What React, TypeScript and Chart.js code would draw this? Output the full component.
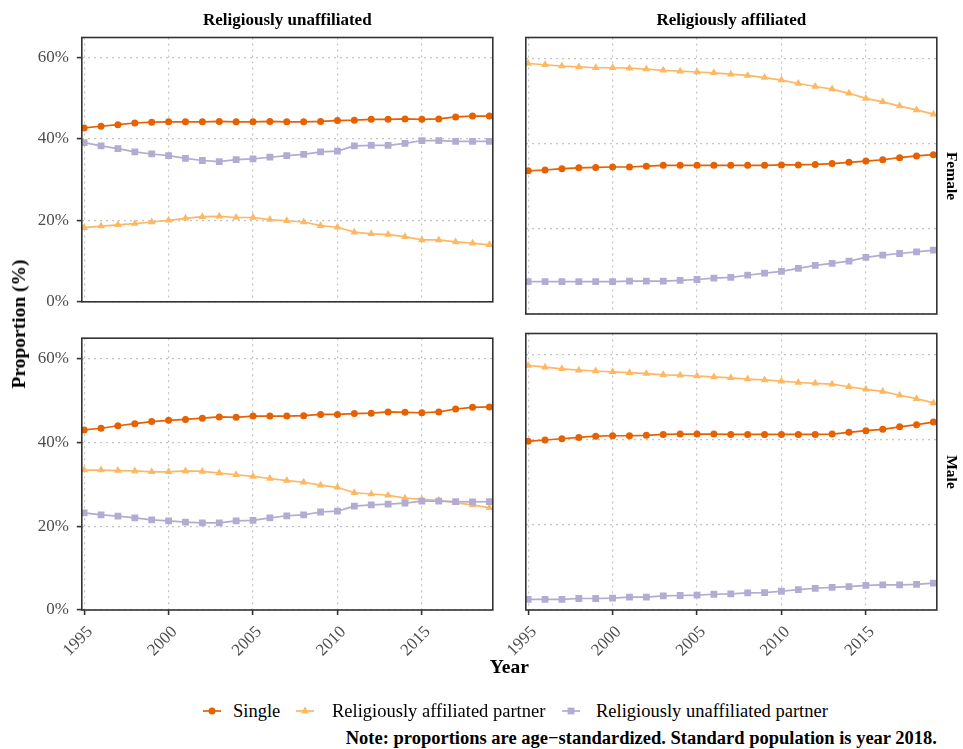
import React, { useEffect, useRef } from 'react';
import { Chart, registerables } from 'chart.js';

Chart.register(...registerables);

// ---------- data ----------
const years = [1995, 1996, 1997, 1998, 1999, 2000, 2001, 2002, 2003, 2004, 2005, 2006, 2007, 2008, 2009, 2010, 2011, 2012, 2013, 2014, 2015, 2016, 2017, 2018, 2019];
const xTickValues = [1995, 2000, 2005, 2010, 2015];
const yTickValues = [0, 20, 40, 60];

const seriesNames = ['Single', 'Religiously affiliated partner', 'Religiously unaffiliated partner'];
const seriesColors = ['#e66101', '#fdb863', '#b2abd2'];
const seriesShapes = ['circle', 'triangle', 'rect'];

const columnLabels = ['Religiously unaffiliated', 'Religiously affiliated'];
const rowLabels = ['Female', 'Male'];

// Female, religiously unaffiliated
const femUnaffSingle = [42.7, 43.1, 43.5, 43.9, 44.1, 44.2, 44.2, 44.2, 44.3, 44.2, 44.2, 44.3, 44.2, 44.2, 44.3, 44.5, 44.6, 44.8, 44.8, 44.9, 44.8, 44.9, 45.4, 45.6, 45.6];
const femUnaffAffPartner = [18.2, 18.6, 18.9, 19.2, 19.6, 20.0, 20.5, 20.9, 21.0, 20.7, 20.7, 20.2, 19.9, 19.6, 18.7, 18.3, 17.1, 16.7, 16.5, 16.0, 15.2, 15.2, 14.7, 14.4, 14.0];
const femUnaffUnaffPartner = [39.1, 38.3, 37.6, 36.8, 36.3, 35.9, 35.2, 34.7, 34.4, 34.9, 35.1, 35.5, 35.9, 36.2, 36.8, 37.0, 38.3, 38.4, 38.4, 38.9, 39.6, 39.6, 39.4, 39.4, 39.4];

// Female, religiously affiliated
const femAffSingle = [33.6, 33.8, 34.1, 34.3, 34.4, 34.5, 34.5, 34.7, 34.9, 34.9, 34.9, 34.9, 34.9, 34.9, 34.9, 35.0, 35.0, 35.1, 35.3, 35.6, 35.9, 36.2, 36.7, 37.1, 37.4];
const femAffAffPartner = [58.8, 58.5, 58.2, 58.0, 57.8, 57.8, 57.7, 57.5, 57.2, 57.0, 56.8, 56.6, 56.3, 56.0, 55.5, 54.9, 54.1, 53.4, 52.8, 51.8, 50.6, 49.8, 48.8, 47.9, 46.9];
const femAffUnaffPartner = [7.6, 7.6, 7.6, 7.6, 7.6, 7.6, 7.7, 7.7, 7.7, 7.9, 8.1, 8.4, 8.6, 9.1, 9.6, 10.0, 10.7, 11.4, 11.9, 12.4, 13.3, 13.8, 14.2, 14.6, 15.0];

// Male, religiously unaffiliated
const maleUnaffSingle = [43.0, 43.4, 44.0, 44.5, 45.0, 45.3, 45.5, 45.8, 46.1, 46.0, 46.3, 46.3, 46.3, 46.4, 46.7, 46.7, 46.9, 47.0, 47.3, 47.2, 47.1, 47.3, 48.0, 48.4, 48.5];
const maleUnaffAffPartner = [33.4, 33.4, 33.3, 33.2, 33.0, 33.0, 33.2, 33.1, 32.7, 32.3, 31.9, 31.4, 30.9, 30.5, 29.8, 29.3, 28.0, 27.7, 27.4, 26.7, 26.4, 26.2, 25.6, 25.1, 24.4];
const maleUnaffUnaffPartner = [23.2, 22.7, 22.4, 22.0, 21.5, 21.3, 21.0, 20.8, 20.8, 21.3, 21.4, 22.0, 22.5, 22.7, 23.4, 23.6, 24.8, 25.1, 25.3, 25.5, 26.0, 26.0, 25.9, 25.8, 25.9];

// Male, religiously affiliated
const maleAffSingle = [39.6, 39.9, 40.2, 40.5, 40.8, 40.9, 40.9, 41.0, 41.2, 41.3, 41.3, 41.3, 41.2, 41.2, 41.2, 41.2, 41.2, 41.2, 41.3, 41.7, 42.1, 42.4, 43.0, 43.5, 44.1];
const maleAffAffPartner = [57.4, 57.0, 56.6, 56.3, 56.1, 55.9, 55.7, 55.5, 55.2, 55.1, 54.9, 54.7, 54.5, 54.2, 54.0, 53.7, 53.4, 53.2, 53.0, 52.4, 51.8, 51.3, 50.4, 49.6, 48.6];
const maleAffUnaffPartner = [2.5, 2.5, 2.5, 2.7, 2.7, 2.8, 3.0, 3.0, 3.3, 3.4, 3.5, 3.7, 3.8, 4.0, 4.1, 4.4, 4.8, 5.1, 5.3, 5.5, 5.8, 5.9, 5.9, 6.0, 6.3];

// ---------- styling ----------
const FONT = '"Liberation Serif", "Times New Roman", serif';
const X_MIN = 1994.86;
const X_MAX = 2019.2;
const Y_MIN = 0;
const Y_MAX = 64.9;
const pointRadii = [3.5, 4.5, 4.8];

const framePlugin = {
  id: 'panelFrame',
  afterDraw(chart: any) {
    const { ctx, chartArea: a } = chart;
    ctx.save();
    ctx.strokeStyle = '#333333';
    ctx.lineWidth = 1.6;
    ctx.strokeRect(a.left, a.top, a.right - a.left, a.bottom - a.top);
    ctx.restore();
  },
};

type PanelProps = {
  series: number[][];
  showX: boolean;
  showY: boolean;
  left: number;
  top: number;
  width: number;
  height: number;
  padding: { left: number; right: number; top: number; bottom: number };
  axisW: number;
  axisH: number;
};

function Panel(p: PanelProps) {
  const ref = useRef<HTMLCanvasElement | null>(null);
  useEffect(() => {
    if (!ref.current) return;
    const chart = new Chart(ref.current, {
      type: 'line',
      data: {
        datasets: p.series.map((vals, i) => ({
          label: seriesNames[i],
          data: years.map((yr, j) => ({ x: yr, y: vals[j] })),
          borderColor: seriesColors[i],
          backgroundColor: seriesColors[i],
          pointBackgroundColor: seriesColors[i],
          pointBorderColor: seriesColors[i],
          pointBorderWidth: 0,
          pointStyle: seriesShapes[i] as any,
          pointRadius: pointRadii[i],
          borderWidth: 1.7,
          tension: 0,
          order: 2 - i,
        })),
      },
      options: {
        animation: false,
        responsive: false,
        maintainAspectRatio: false,
        events: [],
        layout: { padding: p.padding },
        plugins: { legend: { display: false }, tooltip: { enabled: false } },
        scales: {
          x: {
            type: 'linear',
            min: X_MIN,
            max: X_MAX,
            afterBuildTicks: (s: any) => {
              s.ticks = xTickValues.map((v) => ({ value: v }));
            },
            afterFit: (s: any) => {
              s.height = p.axisH;
            },
            ticks: {
              display: p.showX,
              autoSkip: false,
              minRotation: 45,
              maxRotation: 45,
              padding: 7,
              labelOffset: 6,
              color: '#4d4d4d',
              font: { family: FONT, size: 17 },
              callback: (v: any) => String(v),
            },
            grid: {
              color: '#c4c4c4',
              lineWidth: 1.2,
              drawTicks: p.showX,
              tickLength: 5,
              tickColor: '#333333',
              tickWidth: 1.6,
              tickBorderDash: [],
            },
            border: { display: false, dash: [2, 4] },
          },
          y: {
            type: 'linear',
            min: Y_MIN,
            max: Y_MAX,
            afterBuildTicks: (s: any) => {
              s.ticks = yTickValues.map((v) => ({ value: v }));
            },
            afterFit: (s: any) => {
              s.width = p.axisW;
            },
            ticks: {
              display: p.showY,
              padding: 8,
              color: '#4d4d4d',
              font: { family: FONT, size: 17 },
              callback: (v: any) => v + '%',
            },
            grid: {
              color: '#c4c4c4',
              lineWidth: 1.2,
              drawTicks: p.showY,
              tickLength: 5,
              tickColor: '#333333',
              tickWidth: 1.6,
              tickBorderDash: [],
            },
            border: { display: false, dash: [2, 4] },
          },
        },
      } as any,
      plugins: [framePlugin],
    });
    return () => chart.destroy();
  }, []);
  return (
    <canvas
      ref={ref}
      width={p.width}
      height={p.height}
      style={{ position: 'absolute', left: p.left, top: p.top, width: p.width, height: p.height }}
    />
  );
}

function LegendKey({ color, shape }: { color: string; shape: string }) {
  return (
    <svg width={20} height={14} style={{ display: 'block' }}>
      <line x1={1} y1={7} x2={19} y2={7} stroke={color} strokeWidth={1.7} />
      {shape === 'circle' && <circle cx={10} cy={7} r={3.5} fill={color} />}
      {shape === 'triangle' && <polygon points="10,2.5 13.9,9.25 6.1,9.25" fill={color} />}
      {shape === 'rect' && <rect x={6.6} y={3.6} width={6.8} height={6.8} fill={color} />}
    </svg>
  );
}

const legendKeyCenters = [212, 305, 571];
const legendTextLefts = [233, 332, 596];

export default function App() {
  const textBase: React.CSSProperties = { position: 'absolute', fontFamily: FONT, color: '#000', whiteSpace: 'nowrap' };
  return (
    <div style={{ position: 'absolute', left: 0, top: 0, width: 963, height: 749, background: '#fff', overflow: 'hidden' }}>
      <Panel
        series={[femUnaffSingle, femUnaffAffPartner, femUnaffUnaffPartner]}
        showX={false}
        showY={true}
        left={0}
        top={0}
        width={500}
        height={320}
        padding={{ left: 0, right: 7.2, top: 37.5, bottom: 6 }}
        axisW={81.8}
        axisH={0}
      />
      <Panel
        series={[femAffSingle, femAffAffPartner, femAffUnaffPartner]}
        showX={false}
        showY={false}
        left={470}
        top={0}
        width={475}
        height={320}
        padding={{ left: 55.8, right: 8.2, top: 37.5, bottom: 6 }}
        axisW={0}
        axisH={0}
      />
      <Panel
        series={[maleUnaffSingle, maleUnaffAffPartner, maleUnaffUnaffPartner]}
        showX={true}
        showY={true}
        left={0}
        top={320}
        width={500}
        height={370}
        padding={{ left: 0, right: 7.2, top: 13.5, bottom: 0 }}
        axisW={81.8}
        axisH={80}
      />
      <Panel
        series={[maleAffSingle, maleAffAffPartner, maleAffUnaffPartner]}
        showX={true}
        showY={false}
        left={470}
        top={320}
        width={475}
        height={370}
        padding={{ left: 55.8, right: 8.2, top: 13.5, bottom: 0 }}
        axisW={0}
        axisH={80}
      />

      {/* column strips */}
      <div style={{ ...textBase, left: 287.3, top: 20, transform: 'translate(-50%, -50%)', fontWeight: 'bold', fontSize: 17 }}>
        {columnLabels[0]}
      </div>
      <div style={{ ...textBase, left: 731.3, top: 20, transform: 'translate(-50%, -50%)', fontWeight: 'bold', fontSize: 17 }}>
        {columnLabels[1]}
      </div>
      {/* row strips */}
      <div style={{ ...textBase, left: 952, top: 175.75, transform: 'translate(-50%, -50%) rotate(90deg)', fontWeight: 'bold', fontSize: 15.5 }}>
        {rowLabels[0]}
      </div>
      <div style={{ ...textBase, left: 952, top: 471.75, transform: 'translate(-50%, -50%) rotate(90deg)', fontWeight: 'bold', fontSize: 15.5 }}>
        {rowLabels[1]}
      </div>

      {/* axis titles */}
      <div style={{ ...textBase, left: 19, top: 323.75, transform: 'translate(-50%, -50%) rotate(-90deg)', fontWeight: 'bold', fontSize: 19.5 }}>
        Proportion (%)
      </div>
      <div style={{ ...textBase, left: 509.3, top: 667, transform: 'translate(-50%, -50%)', fontWeight: 'bold', fontSize: 19.5 }}>
        Year
      </div>

      {/* legend */}
      {seriesNames.map((name, i) => (
        <React.Fragment key={name}>
          <div style={{ position: 'absolute', left: legendKeyCenters[i] - 10, top: 711 - 7 }}>
            <LegendKey color={seriesColors[i]} shape={seriesShapes[i]} />
          </div>
          <div style={{ ...textBase, left: legendTextLefts[i], top: 711, transform: 'translateY(-50%)', fontSize: 18.5 }}>
            {name}
          </div>
        </React.Fragment>
      ))}

      {/* note */}
      <div style={{ ...textBase, left: 0, width: 937, top: 738, transform: 'translateY(-50%)', textAlign: 'right', fontWeight: 'bold', fontSize: 18.5 }}>
        Note: proportions are age−standardized. Standard population is year 2018.
      </div>
    </div>
  );
}
